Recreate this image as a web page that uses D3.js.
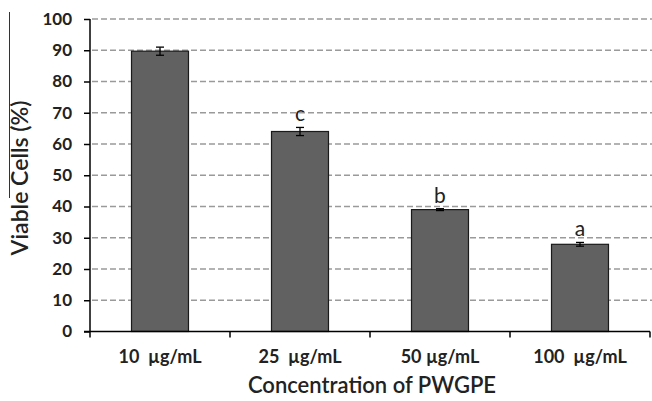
<!DOCTYPE html>
<html>
<head>
<meta charset="utf-8">
<script src="https://cdn.jsdelivr.net/npm/d3@7"></script>
<style>
  body { margin: 0; background: #fff; }
  text { font-family: Lato, "Open Sans", sans-serif; white-space: pre; }
</style>
</head>
<body>
<svg id="chart"></svg>
<script>
// data
var categories = ["10  µg/mL", "25  µg/mL", "50 µg/mL", "100  µg/mL"];
var viable = [89.7, 64.0, 39.0, 27.9];
var errs = [1.3, 1.3, 0.3, 0.6];
var letters = ["", "c", "b", "a"];
var yTicks = [0, 10, 20, 30, 40, 50, 60, 70, 80, 90, 100];

var width = 652, height = 401;
var plotLeft = 90, plotRight = 650, plotTop = 19, plotBottom = 331.5;

var svg = d3.select("#chart")
    .attr("width", width)
    .attr("height", height);

var x = d3.scaleBand()
    .domain(categories)
    .range([plotLeft, plotRight])
    .paddingInner(0.593)
    .paddingOuter(0.2965);

var y = d3.scaleLinear()
    .domain([0, 100])
    .range([plotBottom, plotTop]);

// dashed gridlines
svg.append("g")
    .selectAll("line")
    .data(yTicks.filter(function(d) { return d > 0; }))
    .enter()
    .append("line")
    .attr("x1", plotLeft + 2)
    .attr("x2", width)
    .attr("y1", function(d) { return y(d); })
    .attr("y2", function(d) { return y(d); })
    .attr("stroke", "#9a9a9a")
    .attr("stroke-width", 1.5)
    .attr("stroke-dasharray", "6,3");

// y axis
var y_axis = d3.axisLeft(y)
    .tickValues(yTicks)
    .tickSize(6)
    .tickPadding(12);

var gy = svg.append("g")
    .attr("transform", "translate(" + plotLeft + ",0)")
    .call(y_axis);
gy.select(".domain").attr("stroke", "#000").attr("stroke-width", 1.5)
    .attr("d", "M0," + plotTop + "V" + plotBottom);
gy.selectAll(".tick line").attr("stroke", "#000").attr("stroke-width", 1.5);
gy.selectAll(".tick text")
    .attr("font-family", "Lato, sans-serif")
    .attr("font-size", 17)
    .attr("font-weight", "bold")
    .attr("fill", "#222");

// bars
svg.append("g")
    .selectAll("rect")
    .data(viable)
    .enter()
    .append("rect")
    .attr("x", function(d, i) { return x(categories[i]); })
    .attr("y", function(d) { return y(d); })
    .attr("width", x.bandwidth())
    .attr("height", function(d) { return y(0) - y(d); })
    .attr("fill", "#616161")
    .attr("stroke", "#1a1a1a")
    .attr("stroke-width", 1.2);

// error bars
var eb = svg.append("g").attr("stroke", "#000").attr("stroke-width", 1.3);
viable.forEach(function(v, i) {
    var cx = x(categories[i]) + x.bandwidth() / 2;
    eb.append("line").attr("x1", cx).attr("x2", cx)
        .attr("y1", y(v + errs[i])).attr("y2", y(v - errs[i]));
    eb.append("line").attr("x1", cx - 4).attr("x2", cx + 4)
        .attr("y1", y(v + errs[i])).attr("y2", y(v + errs[i]));
    eb.append("line").attr("x1", cx - 4).attr("x2", cx + 4)
        .attr("y1", y(v - errs[i])).attr("y2", y(v - errs[i]));
});

// significance letters
svg.append("g")
    .selectAll("text")
    .data(letters)
    .enter()
    .append("text")
    .attr("x", function(d, i) { return x(categories[i]) + x.bandwidth() / 2; })
    .attr("y", function(d, i) { return y(viable[i] + errs[i]) - 6; })
    .attr("text-anchor", "middle")
    .attr("font-size", 21)
    .attr("fill", "#222")
    .text(function(d) { return d; });

// x axis: line plus ticks at category boundaries
var step = x.step();
svg.append("line")
    .attr("x1", plotLeft - 6).attr("x2", plotRight)
    .attr("y1", plotBottom).attr("y2", plotBottom)
    .attr("stroke", "#000").attr("stroke-width", 1.5);

var bounds = categories.map(function(c) { return x(c) - step * x.paddingInner() / 2; });
bounds.push(plotRight);
svg.append("g")
    .selectAll("line")
    .data(bounds)
    .enter()
    .append("line")
    .attr("x1", function(d) { return d; })
    .attr("x2", function(d) { return d; })
    .attr("y1", plotBottom)
    .attr("y2", plotBottom + 6)
    .attr("stroke", "#000")
    .attr("stroke-width", 1.5);

svg.append("g")
    .selectAll("text")
    .data(categories)
    .enter()
    .append("text")
    .attr("x", function(d) { return x(d) + x.bandwidth() / 2; })
    .attr("y", 363)
    .attr("text-anchor", "middle")
    .attr("font-size", 18)
    .attr("font-weight", "bold")
    .attr("fill", "#222")
    .text(function(d) { return d; });

// axis titles
svg.append("text")
    .attr("x", 372)
    .attr("y", 393)
    .attr("text-anchor", "middle")
    .attr("font-size", 22)
    .attr("font-weight", 600)
    .attr("fill", "#222")
    .text("Concentration of PWGPE");

svg.append("text")
    .attr("transform", "translate(28,178) rotate(-90)")
    .attr("text-anchor", "middle")
    .attr("font-size", 23)
    .attr("font-weight", 600)
    .attr("fill", "#222")
    .text("Viable Cells (%)");

// stray frame line at the left edge of the original figure
svg.append("line")
    .attr("x1", 9.5).attr("x2", 9.5)
    .attr("y1", 12).attr("y2", 198)
    .attr("stroke", "#333")
    .attr("stroke-width", 1);
</script>
</body>
</html>
